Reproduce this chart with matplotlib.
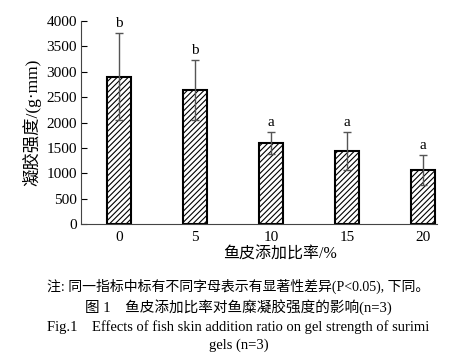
import numpy as np
import matplotlib
matplotlib.use("Agg")
import matplotlib.pyplot as plt

plt.rcParams['font.family'] = ['Liberation Serif', 'Noto Sans CJK SC']
plt.rcParams['hatch.linewidth'] = 0.8

# Données
ratios = ["0", "5", "10", "15", "20"]
strength = [2900, 2640, 1590, 1440, 1065]
errors = [860, 590, 215, 370, 295]
letters = ["b", "b", "a", "a", "a"]

fig = plt.figure(figsize=(4.77, 3.64), dpi=100)
ax = fig.add_axes([0.170, 0.3846, 0.746, 0.5577])

x = np.arange(len(ratios))
ax.bar(x, strength, width=0.32, color="white", edgecolor="black",
       linewidth=1.5, hatch="//////", zorder=2)
ax.errorbar(x, strength, yerr=errors, fmt="none", ecolor="#555555",
            elinewidth=1.0, capsize=3, capthick=1.0, zorder=3)

for xi, s, e, lab in zip(x, strength, errors, letters):
    ax.text(xi, s + e + 60, lab, ha="center", va="bottom", fontsize=11)

ax.set_xlim(-0.5, 4.18)
ax.set_ylim(0, 4000)
ax.set_yticks(np.arange(0, 4001, 500))
ax.set_xticks(x)
ax.set_xticklabels(ratios)
ax.tick_params(axis="y", direction="in", length=4, labelsize=11, pad=3)
ax.tick_params(axis="x", length=0, labelsize=11, pad=5)
ax.spines["top"].set_visible(False)
ax.spines["right"].set_visible(False)
ax.spines["left"].set_color("#444444")
ax.spines["bottom"].set_color("#444444")

ax.set_xlabel("鱼皮添加比率/%", fontsize=11.5, va="center")
ax.xaxis.set_label_coords(0.56, -0.15)
ax.set_ylabel("凝胶强度/(g·mm)", fontsize=12.5, labelpad=4)

# Légende sous la figure
fig.text(0.5, 0.212, "注: 同一指标中标有不同字母表示有显著性差异(P<0.05), 下同。",
         ha="center", va="center", fontsize=10)
fig.text(0.5, 0.157, "图 1    鱼皮添加比率对鱼糜凝胶强度的影响(n=3)",
         ha="center", va="center", fontsize=10.5)
fig.text(0.5, 0.102, "Fig.1    Effects of fish skin addition ratio on gel strength of surimi",
         ha="center", va="center", fontsize=10.5)
fig.text(0.5, 0.052, "gels (n=3)", ha="center", va="center", fontsize=10.5)

fig.savefig("out.png", dpi=100)
